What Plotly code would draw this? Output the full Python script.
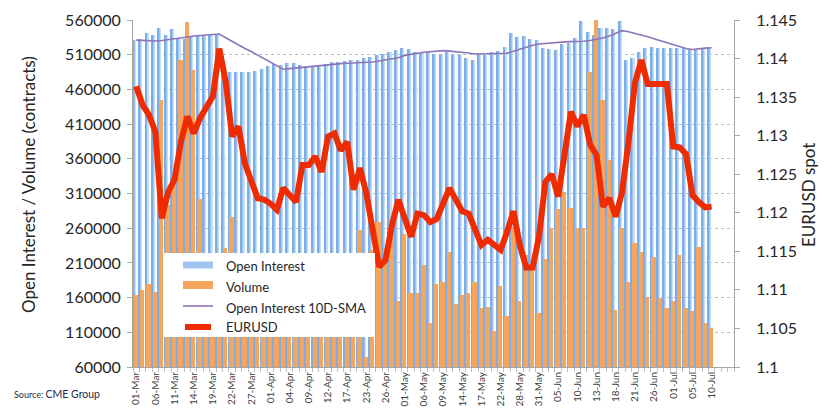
import plotly.graph_objects as go

# ---------------- data ----------------
dates = ["01-Mar","04-Mar","05-Mar","06-Mar","07-Mar","08-Mar","11-Mar","12-Mar","13-Mar","14-Mar",
         "15-Mar","18-Mar","19-Mar","20-Mar","21-Mar","22-Mar","25-Mar","26-Mar","27-Mar","28-Mar",
         "29-Mar","01-Apr","02-Apr","03-Apr","04-Apr","05-Apr","08-Apr","09-Apr","10-Apr","11-Apr",
         "12-Apr","15-Apr","16-Apr","17-Apr","18-Apr","22-Apr","23-Apr","24-Apr","25-Apr","26-Apr",
         "29-Apr","30-Apr","01-May","02-May","03-May","06-May","07-May","08-May","09-May","10-May",
         "13-May","14-May","15-May","16-May","17-May","20-May","21-May","22-May","23-May","24-May",
         "28-May","29-May","30-May","31-May","03-Jun","04-Jun","05-Jun","06-Jun","07-Jun","10-Jun",
         "11-Jun","12-Jun","13-Jun","14-Jun","17-Jun","18-Jun","19-Jun","20-Jun","21-Jun","24-Jun",
         "25-Jun","26-Jun","27-Jun","28-Jun","01-Jul","02-Jul","03-Jul","05-Jul","08-Jul","09-Jul",
         "10-Jul"]

open_interest = [531000, 533000, 541000, 539000, 548000, 538000, 547000, 533000, 532000, 537000,
                 538000, 538000, 539000, 539000, 484000, 484600, 484600, 485600, 484600, 486500,
                 489400, 494200, 496200, 495200, 497600, 497600, 495200, 492800, 492800, 495200,
                 496200, 499000, 500000, 501000, 502400, 502400, 505700, 507100, 509600, 510600,
                 514300, 516800, 519200, 518200, 513400, 512000, 514300, 511000, 510600, 513400,
                 510600, 509600, 505700, 502400, 510600, 509600, 514300, 515300, 520600, 540800,
                 536000, 537000, 532600, 531200, 519200, 517800, 516800, 525000, 526400, 534600,
                 558600, 542000, 537900, 549000, 549000, 547000, 558600, 502400, 505700, 513400,
                 520100, 520600, 519200, 519200, 519200, 520100, 519200, 516800, 516800, 519200,
                 519200]

volume = [163800, 171000, 179600, 167600, 444700, 293400, 330000, 502400, 556700, 488000,
          302000, 190000, 160000, 205000, 231000, 276600, 170000, 150000, 185000, 140000,
          200000, 165000, 175000, 150000, 190000, 160000, 145000, 180000, 155000, 170000,
          140000, 185000, 165000, 150000, 200000, 257400, 74900, 228600, 268500, 231000,
          256000, 155100, 251200, 166200, 166600, 207000, 123900, 179600, 183000, 226200,
          150800, 163800, 166200, 183000, 144600, 147000, 112300, 176700, 133500, 262200,
          155500, 221400, 204500, 137400, 216200, 259900, 287200, 312600, 288700, 259900,
          259900, 485600, 562000, 444700, 358300, 142100, 259900, 183000, 238200, 226200,
          161300, 219000, 159000, 144600, 155100, 221400, 144600, 140700, 232500, 123000,
          115800]

oi_sma10 = [531000, 530500, 530000, 529800, 530500, 531500, 532600, 534000, 535500, 537000,
            537500, 538400, 539500, 539800, 534500, 529000, 523500, 519000, 514500, 509500,
            504800, 499500, 494000, 489000, 490000, 491000, 491800, 492700, 493700, 494500,
            495500, 496600, 497200, 497600, 498000, 498300, 498500, 499500, 501000, 502800,
            504000, 505500, 509000, 511000, 512000, 513500, 514300, 515000, 515800, 515200,
            514500, 513500, 512500, 511000, 511000, 511200, 511500, 511800, 512000, 515000,
            518000, 521000, 523500, 525400, 526400, 526600, 527500, 528500, 528800, 529000,
            529300, 530500, 532000, 534000, 537000, 540500, 544600, 543000, 540800, 538400,
            536000, 533000, 530000, 527500, 524500, 522000, 519000, 517500, 518800, 519500,
            520000]

eurusd = [1.1364, 1.1340, 1.1327, 1.1305, 1.1193, 1.1227, 1.1243, 1.1292, 1.1325, 1.1303,
          1.1323, 1.1336, 1.1351, 1.1413, 1.1370, 1.1299, 1.1312, 1.1264, 1.1240, 1.1219,
          1.1217, 1.1212, 1.1204, 1.1232, 1.1223, 1.1214, 1.1262, 1.1262, 1.1273, 1.1253,
          1.1299, 1.1303, 1.1281, 1.1292, 1.1230, 1.1258, 1.1225, 1.1175, 1.1130, 1.1139,
          1.1184, 1.1217, 1.1191, 1.1169, 1.1199, 1.1197, 1.1188, 1.1192, 1.1212, 1.1232,
          1.1217, 1.1202, 1.1199, 1.1180, 1.1158, 1.1165, 1.1158, 1.1152, 1.1175, 1.1202,
          1.1158, 1.1129, 1.1129, 1.1169, 1.1240, 1.1250, 1.1221, 1.1281, 1.1331, 1.1312,
          1.1327, 1.1288, 1.1275, 1.1208, 1.1219, 1.1195, 1.1227, 1.1292, 1.1368, 1.1398,
          1.1367, 1.1367, 1.1367, 1.1367, 1.1286, 1.1285, 1.1276, 1.1223, 1.1214, 1.1207,
          1.1208]

left_ticks = [60000, 110000, 160000, 210000, 260000, 310000, 360000, 410000, 460000, 510000, 560000]
left_tick_text = ["60000", "110000", "160000", "210000", "260000", "310000", "360000",
                  "410000", "460000", "510000", "560000"]
right_ticks = [1.1, 1.105, 1.11, 1.115, 1.12, 1.125, 1.13, 1.135, 1.14, 1.145]
right_tick_text = ["1.1", "1.105", "1.11", "1.115", "1.12", "1.125", "1.13", "1.135", "1.14", "1.145"]

series_names = ["Open Interest", "Volume", "Open Interest 10D-SMA", "EURUSD"]

# ---------------- styles ----------------
FONT = "Lato"
C_BLUE_D = "#7aaee8"
C_BLUE_M = "#a0c5f0"
C_BLUE_L = "#c8ddf6"
C_ORANGE = "#f5a65c"
C_PURPLE = "#8e74b8"
C_RED = "#ef2c00"
AXIS_C = "#a6a6a6"

x = list(range(len(dates)))

fig = go.Figure()
# open interest (horizontal gradient look using three strips)
fig.add_trace(go.Bar(x=x, y=open_interest, width=0.56, offset=-0.62,
                     marker=dict(color=C_BLUE_L, line=dict(width=0)), showlegend=False))
fig.add_trace(go.Bar(x=x, y=open_interest, width=0.38, offset=-0.62,
                     marker=dict(color=C_BLUE_M, line=dict(width=0)), showlegend=False))
fig.add_trace(go.Bar(x=x, y=open_interest, width=0.18, offset=-0.62,
                     marker=dict(color=C_BLUE_D, line=dict(width=0)), showlegend=False))
# volume
fig.add_trace(go.Bar(x=x, y=volume, width=0.68, offset=-0.42,
                     marker=dict(color=C_ORANGE, line=dict(width=0)), showlegend=False))
# sma
fig.add_trace(go.Scatter(x=x, y=oi_sma10, mode="lines",
                         line=dict(color=C_PURPLE, width=1.6), showlegend=False))
# eurusd
fig.add_trace(go.Scatter(x=x, y=eurusd, mode="lines", yaxis="y2",
                         line=dict(color=C_RED, width=6), showlegend=False))

fig.update_layout(
    width=827, height=418, autosize=False,
    margin=dict(l=133, r=93, t=20, b=51),
    paper_bgcolor="white", plot_bgcolor="white",
    barmode="overlay", bargap=0,
    font=dict(family=FONT, color="#262626"),
    xaxis=dict(range=[-0.5, 93.5], tickmode="array",
               tickvals=x[::3], ticktext=dates[::3], tickangle=-90,
               tickfont=dict(size=10, family=FONT, color="#404040"),
               ticks="", showline=True, linecolor=AXIS_C, linewidth=1,
               showgrid=False, zeroline=False, automargin=False,
               minor=dict(ticks="outside", ticklen=4, tickcolor="#bfbfbf",
                          tick0=-0.5, dtick=1, showgrid=False)),
    yaxis=dict(range=[60000, 560000], tickmode="array", tickvals=left_ticks,
               ticktext=left_tick_text, showgrid=True, gridcolor="#bfbfbf",
               griddash="dot", gridwidth=1, ticks="outside", ticklen=5,
               tickcolor=AXIS_C, showline=True, linecolor=AXIS_C, linewidth=1,
               tickfont=dict(size=16, family=FONT, color="#262626"),
               ticklabelstandoff=3, zeroline=False, automargin=False),
    yaxis2=dict(range=[1.1, 1.145], overlaying="y", side="right",
                tickmode="array", tickvals=right_ticks, ticktext=right_tick_text,
                showgrid=False, ticks="outside", ticklen=5, tickcolor=AXIS_C,
                showline=True, linecolor=AXIS_C, linewidth=1,
                tickfont=dict(size=16, family=FONT, color="#262626"),
                ticklabelstandoff=13, zeroline=False, automargin=False),
)

def px(xp):
    return (xp - 133) / 601.0

def py(yp):
    return (367 - yp) / 347.0

annotations = [
    dict(text="Open Interest / Volume (contracts)", x=px(28), y=py(185), xref="paper", yref="paper",
         textangle=-90, showarrow=False, font=dict(size=17, family=FONT, color="#262626"),
         xanchor="center", yanchor="middle"),
    dict(text="EURUSD spot", x=px(808), y=py(195), xref="paper", yref="paper",
         textangle=-90, showarrow=False, font=dict(size=17, family=FONT, color="#262626"),
         xanchor="center", yanchor="middle"),
    dict(text="<span style='font-size:9px'>Source: </span>CME Group", x=px(12), y=py(394),
         xref="paper", yref="paper", showarrow=False, xanchor="left", yanchor="middle",
         font=dict(size=10.5, family=FONT, color="#1f2a44")),
]
legend_rows = [266, 286.7, 307.7, 327.3]
for name, yy in zip(series_names, legend_rows):
    annotations.append(dict(text=name, x=px(224), y=py(yy), xref="paper", yref="paper",
                            showarrow=False, xanchor="left", yanchor="middle",
                            font=dict(size=13, family=FONT, color="#262626")))

shapes = [
    dict(type="rect", xref="paper", yref="paper", x0=px(163), x1=px(375), y0=py(337), y1=py(253),
         fillcolor="white", line=dict(width=0), layer="above"),
    dict(type="rect", xref="paper", yref="paper", x0=px(183), x1=px(213), y0=py(268.5), y1=py(261.5),
         fillcolor=C_BLUE_M, line=dict(width=0), layer="above"),
    dict(type="rect", xref="paper", yref="paper", x0=px(183), x1=px(213), y0=py(289), y1=py(281),
         fillcolor=C_ORANGE, line=dict(width=0), layer="above"),
    dict(type="line", xref="paper", yref="paper", x0=px(183), x1=px(213), y0=py(306), y1=py(306),
         line=dict(color=C_PURPLE, width=1.6), layer="above"),
    dict(type="line", xref="paper", yref="paper", x0=px(185), x1=px(211), y0=py(327), y1=py(327),
         line=dict(color=C_RED, width=6), layer="above"),
]
fig.update_layout(annotations=annotations, shapes=shapes)

fig.write_html("out.html")
